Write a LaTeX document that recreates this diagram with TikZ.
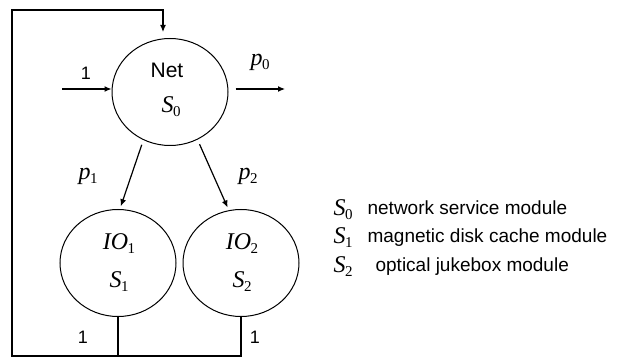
\documentclass[tikz,border=0pt]{standalone}
\usepackage{fontspec}
\setmainfont{Liberation Sans}
\newfontfamily\tms{Liberation Serif}
\usetikzlibrary{shapes.geometric,arrows.meta}

% italic letter with upright index, as in the figure
\newcommand{\sym}[2]{{\fontsize{24}{26}\selectfont\tms\itshape #1}\kern-0.5pt\raisebox{-4pt}{\fontsize{15}{17}\selectfont\tms #2}}

\begin{document}
\begin{tikzpicture}[x=1pt,y=-1pt,line width=1.2pt,
  module/.style={ellipse,draw,line width=1pt,minimum width=116pt,minimum height=107pt},
  arr/.style={-{Latex[length=7pt,width=6pt]}},
  lbl/.style={font=\fontsize{18}{20}\selectfont}]
\useasboundingbox (0,0) rectangle (619,358);

\node [module] (net) at (170,92) {};
\node [module] (io1) at (118,263) {};
\node [module] (io2) at (241,263) {};

\node (nettxt) at (167,70) {\fontsize{21}{24}\selectfont Net};
\node (s0) at (171,107) {\sym{S}{0}};
\node (io1txt) at (119,244) {\sym{IO}{1}};
\node (s1) at (119,282) {\sym{S}{1}};
\node (io2txt) at (242,244) {\sym{IO}{2}};
\node (s2) at (242,282) {\sym{S}{2}};

\coordinate (in) at (62,89);
\coordinate (out) at (285,89);
\coordinate (bl) at (12,356);
\coordinate (tl) at (12,10);

% input and output of Net
\draw[arr] (in) -- (in -| net.west);
\draw[arr,shorten <=7pt] (out -| net.east) -- (out);
\node [lbl] (one) at (86,73) {1};
\node (p0) at (260,62) {\sym{p}{0}};

% routing to the two IO modules
\draw[arr,shorten <=5pt,shorten >=3pt] (net.241) -- (io1.88);
\draw[arr,shorten <=5pt,shorten >=3pt] (net.300) -- (io2.103);
\node (p1) at (88,176) {\sym{p}{1}};
\node (p2) at (248,176) {\sym{p}{2}};

% feedback loop
\draw (io1.south) -- (io1.south |- bl);
\draw[arr,shorten >=6pt] (io2.south) |- (bl) -- (tl) -| ([xshift=-7pt]net.north);
\node [lbl] (one1) at (83,337) {1};
\node [lbl] (one2) at (255,337) {1};

% legend
\node [anchor=base west,inner sep=0pt] (k0) at (333,216) {\sym{S}{0}};
\node [anchor=base west,inner sep=0pt,font=\fontsize{19}{21}\selectfont] (t0) at (367,215) {network service module};
\node [anchor=base west,inner sep=0pt] (k1) at (333,244) {\sym{S}{1}};
\node [anchor=base west,inner sep=0pt,font=\fontsize{19}{21}\selectfont] (t1) at (367,243) {magnetic disk cache module};
\node [anchor=base west,inner sep=0pt] (k2) at (333,273) {\sym{S}{2}};
\node [anchor=base west,inner sep=0pt,font=\fontsize{19}{21}\selectfont] (t2) at (375,272) {optical jukebox module};
\end{tikzpicture}
\end{document}
